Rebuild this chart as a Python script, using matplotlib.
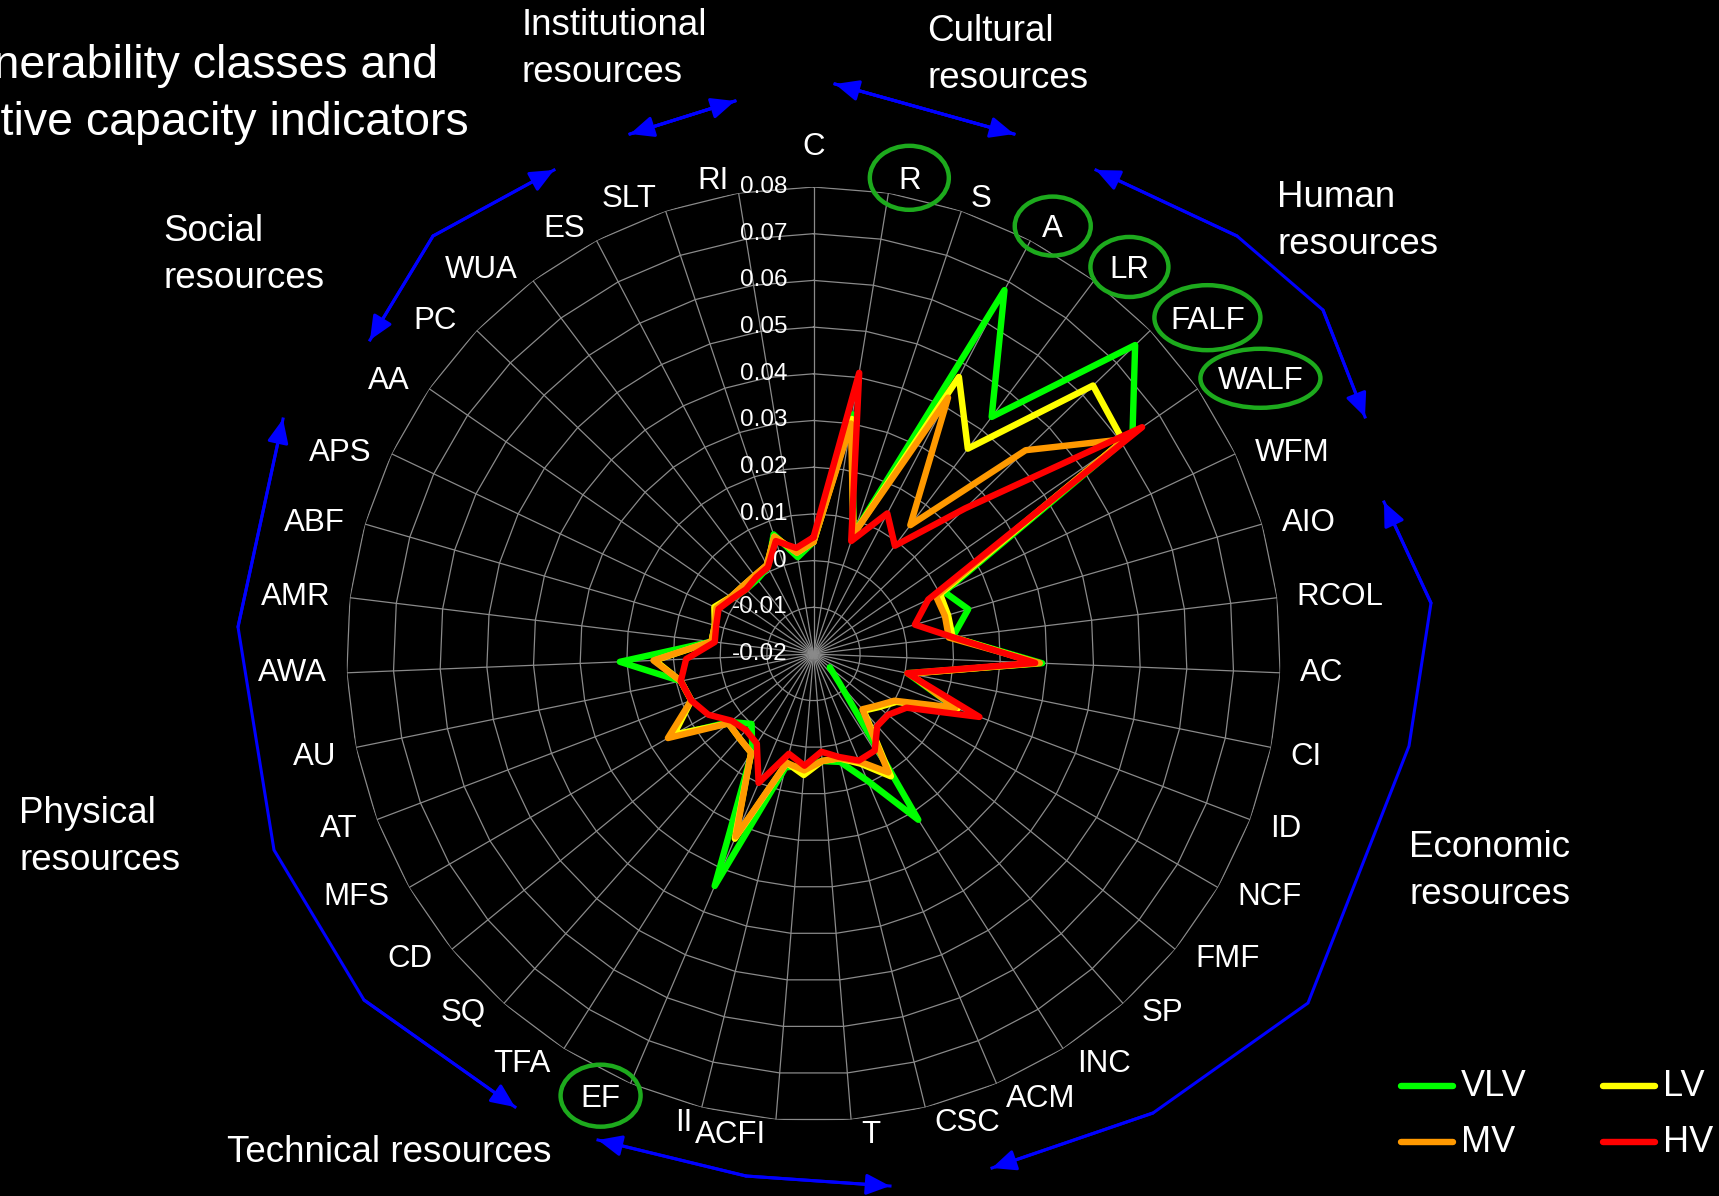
import numpy as np
import matplotlib
matplotlib.use("Agg")
import matplotlib.pyplot as plt
from matplotlib.patches import Ellipse

plt.rcParams['font.family'] = ['Liberation Sans', 'DejaVu Sans']

# ---------------- data ----------------
categories = ["C", "R", "S", "A", "LR", "FALF", "WALF", "WFM", "AIO", "RCOL",
              "AC", "CI", "ID", "NCF", "FMF", "SP", "INC", "ACM", "CSC", "T",
              "ACFI", "II", "EF", "TFA", "SQ", "CD", "MFS", "AT", "AU", "AWA",
              "AMR", "ABF", "APS", "AA", "PC", "WUA", "ES", "SLT", "RI"]

# NaN = empty cell (the line breaks there, as in the original)
vlv = [0.004, 0.032, 0.007, 0.068, 0.0435, 0.0755, 0.063, 0.011, 0.0145, 0.010,
       0.029, 0.0005, 0.0125, np.nan, -0.0155, -0.0115, 0.022, 0.0095, 0.0038, 0.003,
       0.004, 0.005, 0.034, 0.0045, 0.000, 0.003, 0.015, 0.008, 0.009, 0.0215,
       0.002, 0.002, 0.003, 0.001, 0.000, 0.000, 0.001, 0.007, 0.001]

lv = [0.004, 0.031, 0.007, 0.047, 0.035, 0.063, 0.0605, 0.010, 0.010, 0.010,
      0.028, 0.001, 0.013, 0.0005, -0.002, -0.0038, 0.011, 0.0055, 0.003, 0.003,
      0.006, 0.004, 0.023, 0.005, 0.004, 0.0035, 0.0145, 0.008, 0.009, 0.014,
      0.002, 0.002, 0.0035, 0.0015, 0.001, 0.001, 0.0015, 0.0065, 0.002]

mv = [0.004, 0.030, 0.007, 0.042, 0.0145, 0.043, 0.061, 0.009, 0.0093, 0.0092,
      0.0285, 0.001, 0.0125, 0.000, -0.0025, -0.0042, 0.010, 0.005, 0.003, 0.003,
      0.005, 0.004, 0.0225, 0.005, 0.004, 0.0035, 0.016, 0.008, 0.009, 0.0143,
      0.002, 0.002, 0.003, 0.0015, 0.001, 0.001, 0.0015, 0.0065, 0.002]

hv = [0.005, 0.041, 0.0055, 0.014, 0.009, 0.025, 0.0655, 0.0072, 0.0026, 0.010,
      0.0275, 0.0005, 0.018, 0.003, 0.0006, 0.0006, 0.0045, 0.0048, 0.0027, 0.001,
      0.004, 0.002, 0.010, 0.0027, 0.0018, 0.0026, 0.006, 0.008, 0.009, 0.0073,
      0.0013, 0.0017, 0.0025, 0.001, 0.000, 0.0005, 0.001, 0.0055, 0.003]

series_names = ["VLV", "LV", "MV", "HV"]
series_values = [vlv, lv, mv, hv]
series_colors = ["#00FF00", "#FFFF00", "#FF9900", "#FF0000"]

r_ticks = [-0.02, -0.01, 0.0, 0.01, 0.02, 0.03, 0.04, 0.05, 0.06, 0.07, 0.08]
r_tick_labels = ["-0.02", "-0.01", "0", "0.01", "0.02", "0.03", "0.04",
                 "0.05", "0.06", "0.07", "0.08"]

highlighted = {"R": (79, 64), "A": (76, 59), "LR": (78, 60),
               "FALF": (106, 65), "WALF": (120, 59), "EF": (80, 62)}

groups = [("Institutional\nresources", 522, 49),
          ("Cultural\nresources", 927, 55),
          ("Human\nresources", 1277, 221),
          ("Social\nresources", 163, 255),
          ("Physical\nresources", 19, 837),
          ("Economic\nresources", 1409, 871),
          ("Technical resources", 227, 1152)]

arrows = [[(630, 134), (735, 101)],
          [(835, 84), (1014, 134)],
          [(1096, 170), (1237, 236), (1323, 310), (1365, 417)],
          [(1384, 502), (1431, 603), (1409, 746), (1308, 1003), (1153, 1113), (992, 1168)],
          [(598, 1140), (746, 1176), (890, 1186)],
          [(283, 419), (238, 627), (274, 850), (364, 1000), (515, 1107)],
          [(554, 170), (433, 236), (370, 340)]]

# ---------------- figure ----------------
W, H = 1719, 1196
fig = plt.figure(figsize=(W / 100, H / 100), dpi=100, facecolor="black")

cx, cy, R = 813.5, 654.0, 467.0
ax = fig.add_axes([(cx - R) / W, (H - cy - R) / H, 2 * R / W, 2 * R / H],
                  projection="polar")
ax.set_facecolor("black")
ax.set_theta_zero_location("N")
ax.set_theta_direction(-1)
ax.set_ylim(r_ticks[0], r_ticks[-1])
ax.grid(False)
ax.set_xticks([])
ax.set_yticks([])
ax.spines["polar"].set_visible(False)

n = len(categories)
theta = np.arange(n) * 2 * np.pi / n
theta_c = np.append(theta, theta[0])

grid_col = "#8a8a8a"
for rv in r_ticks[1:]:
    ax.plot(theta_c, [rv] * (n + 1), color=grid_col, lw=0.9, zorder=1)
for t in theta:
    ax.plot([t, t], [r_ticks[0], r_ticks[-1]], color=grid_col, lw=0.9, zorder=1)

for vals, col in zip(series_values, series_colors):
    v = np.append(vals, vals[0])
    ax.plot(theta_c, v, color=col, lw=4.6, solid_joinstyle="round",
            solid_capstyle="round", zorder=3)

for rv, lbl in zip(r_ticks, r_tick_labels):
    ax.annotate(lbl, xy=(0, rv), xytext=(-19, 0), textcoords="offset points",
                ha="right", va="center", color="white", fontsize=17.5,
                annotation_clip=False, zorder=5)

# overlay axes in pixel coordinates for decorations
ov = fig.add_axes([0, 0, 1, 1], facecolor="none")
ov.set_xlim(0, W)
ov.set_ylim(H, 0)
ov.axis("off")

# category labels placed outside the outer ring (Excel-like placement)
fig.canvas.draw()
renderer = fig.canvas.get_renderer()
cap_h = 22.4
k = 1.096
for i, cat in enumerate(categories):
    s, c = np.sin(theta[i]), np.cos(theta[i])
    ox, oy = ax.transData.transform((theta[i], r_ticks[-1]))
    if abs(s) < 0.05:
        txt = fig.text(0, 0, cat, color="white", fontsize=22.5, ha="center",
                       va="baseline")
        base = oy + 31.8 if c > 0 else oy - 31.8 - cap_h
        xc = ox
        txt.set_position((ox / W, base / H))
        ycen = base + cap_h / 2
    else:
        ha = "left" if s > 0 else "right"
        txt = fig.text(0, 0, cat, color="white", fontsize=22.5, ha=ha, va="baseline")
        w = txt.get_window_extent(renderer).width
        hoff = np.interp(abs(s), [0.1, 0.35, 0.6, 0.7, 1.0], [9, 8, 14, 18, 18]) * k
        dy = np.interp(c, [-1, -0.85, -0.75, -0.18, -0.05, 0.45, 0.6, 1.0],
                       [11, 11, 6, 5.5, -3, -4, -11, -14]) * k
        x = ox + np.sign(s) * hoff
        ycen = oy - dy
        txt.set_position((x / W, (ycen - cap_h / 2) / H))
        xc = x + np.sign(s) * w / 2
    if cat in highlighted:
        ew, eh = highlighted[cat]
        ov.add_patch(Ellipse((xc, H - ycen), ew, eh, fill=False,
                             edgecolor="#1DAA1D", lw=3.2))

# title (cut at the left edge as in the original)
ov.text(438, 66, "Vulnerability classes and", color="white", fontsize=33.5,
        ha="right", va="center")
ov.text(469, 123, "adaptive capacity indicators", color="white", fontsize=33.5,
        ha="right", va="center")

for label, gx, gy in groups:
    ov.text(gx, gy, label, color="white", fontsize=26.5, ha="left",
            va="center", linespacing=1.43)

blue = "#0000FF"
for pts in arrows:
    xs, ys = zip(*pts)
    ov.plot(xs, ys, color=blue, lw=2.2, solid_joinstyle="miter")
    for a, b in [(pts[1], pts[0]), (pts[-2], pts[-1])]:
        ov.annotate("", xy=b, xytext=a,
                    arrowprops=dict(arrowstyle="-|>,head_length=0.9,head_width=0.4",
                                    color=blue, lw=2.2, mutation_scale=16,
                                    shrinkA=0, shrinkB=0))

# legend (two rows x two columns)
leg_pos = [(1401, 1086), (1603, 1086), (1401, 1142), (1603, 1142)]
for (lx, ly), name, col in zip(leg_pos, series_names, series_colors):
    ov.plot([lx, lx + 52], [ly, ly], color=col, lw=4.6, solid_capstyle="round")
    ov.text(lx + 60, ly, name, color="white", fontsize=26, ha="left", va="center")

fig.savefig("out.png", dpi=100, facecolor="black")
